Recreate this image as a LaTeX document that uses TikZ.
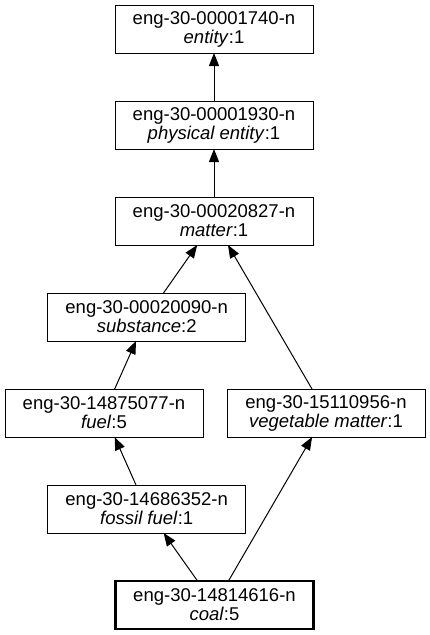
\documentclass[tikz,border=0pt]{standalone}
\usepackage{fontspec}
\setmainfont{Liberation Sans}
\usetikzlibrary{positioning,arrows.meta}

\tikzset{
  synset/.style={draw, line width=1pt, minimum width=198pt, minimum height=48pt,
    inner sep=0pt, outer sep=0pt, align=center, font=\fontsize{18.5}{19}\selectfont},
  query/.style={synset, line width=2.2pt},
  hyper/.style={line width=1pt, -{Triangle[length=13pt,width=10pt]}},
  node distance=48pt
}

\begin{document}
\begin{tikzpicture}
  \useasboundingbox (0pt,0pt) rectangle (429pt,-635pt);
  \node [synset] (entity) at (214pt,-29pt) {eng-30-00001740-n\\\textit{entity}:1};
  \node [synset, below=of entity] (physent) {eng-30-00001930-n\\\textit{physical entity}:1};
  \node [synset, below=of physent] (matter) {eng-30-00020827-n\\\textit{matter}:1};
  \node [synset, below=of matter, xshift=-67.3pt] (substance) {eng-30-00020090-n\\\textit{substance}:2};
  \node [synset, below=of substance, xshift=-42.7pt] (fuel) {eng-30-14875077-n\\\textit{fuel}:5};
  \node [synset, right=24pt of fuel] (vegmatter) {eng-30-15110956-n\\\textit{vegetable matter}:1};
  \node [synset, below=of fuel, xshift=42.7pt] (fossilfuel) {eng-30-14686352-n\\\textit{fossil fuel}:1};
  \node [query, below=of fossilfuel, xshift=67.8pt] (coal) {eng-30-14814616-n\\\textit{coal}:5};

  \draw [hyper] (physent) -- (entity);
  \draw [hyper] (matter) -- (physent);
  \draw [hyper] (substance) -- (matter);
  \draw [hyper] (vegmatter) -- (matter);
  \draw [hyper] (fuel) -- (substance);
  \draw [hyper] (fossilfuel) -- (fuel);
  \draw [hyper] (coal) -- (fossilfuel);
  \draw [hyper] (coal) -- (vegmatter);
\end{tikzpicture}
\end{document}
